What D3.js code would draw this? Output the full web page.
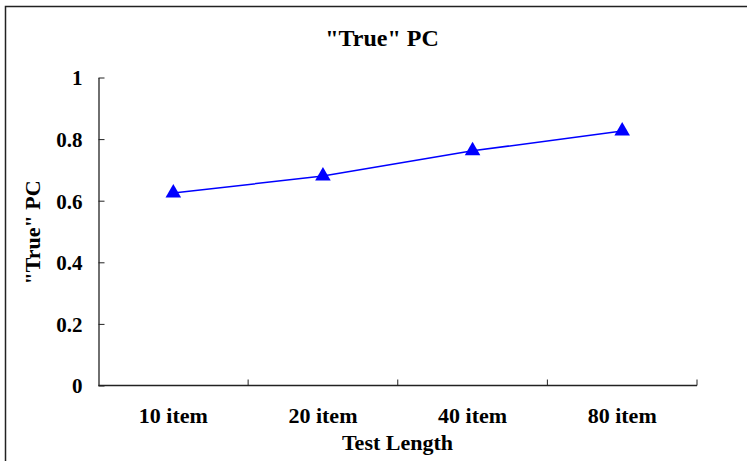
<!DOCTYPE html>
<html>
<head>
<meta charset="utf-8">
<script src="https://cdnjs.cloudflare.com/ajax/libs/d3/7.8.5/d3.min.js"></script>
<style>
  body { margin: 0; background: #fff; }
</style>
</head>
<body>
<svg id="chart"></svg>
<script>
var categories = ["10 item", "20 item", "40 item", "80 item"];
var truePC = [0.625, 0.680, 0.762, 0.826];
var yTicks = [0, 0.2, 0.4, 0.6, 0.8, 1];

var FONT = "'Liberation Serif', 'Times New Roman', Times, 'DejaVu Serif', serif";

var W = 747, H = 461;
var margin = {top: 77.5, right: 50, bottom: 75.5, left: 98.5},
    width = 697 - margin.left,
    height = 385.5 - margin.top;

var svg = d3.select("#chart")
  .attr("width", W)
  .attr("height", H)
  .style("font-family", FONT);

// outer frame (runs off the right and bottom edges)
svg.append("rect")
  .attr("x", 5.5).attr("y", 6.5)
  .attr("width", W + 10).attr("height", H + 10)
  .attr("fill", "none")
  .attr("stroke", "#222")
  .attr("stroke-width", 1.5);

var g = svg.append("g")
  .attr("transform", "translate(" + margin.left + "," + margin.top + ")");

var x = d3.scaleBand()
  .domain(categories)
  .range([0, width]);

var y = d3.scaleLinear()
  .domain([0, 1])
  .range([height, 0]);

// y axis: ticks point inward
var yAxis = d3.axisLeft(y)
  .tickValues(yTicks)
  .tickFormat(function(d) { return d; })
  .tickSizeInner(-6)
  .tickSizeOuter(0)
  .tickPadding(16);
var yg = g.append("g").call(yAxis)
  .attr("font-family", FONT);
yg.select(".domain").attr("stroke", "#222").attr("stroke-width", 1.3);
yg.selectAll(".tick line").attr("stroke", "#222");
yg.selectAll(".tick text")
  .attr("font-size", "21px")
  .attr("font-weight", "bold")
  .attr("font-family", FONT)
  .attr("dy", "0.35em");

// x axis: category separators pointing up
var xg = g.append("g").attr("transform", "translate(0," + height + ")");
xg.append("line")
  .attr("x1", 0).attr("x2", width)
  .attr("stroke", "#222").attr("stroke-width", 1.3);
xg.selectAll("line.sep")
  .data(categories)
  .enter().append("line")
  .attr("class", "sep")
  .attr("x1", function(d) { return x(d) + x.bandwidth(); })
  .attr("x2", function(d) { return x(d) + x.bandwidth(); })
  .attr("y1", 0).attr("y2", -6)
  .attr("stroke", "#222");
xg.selectAll("text")
  .data(categories)
  .enter().append("text")
  .attr("x", function(d) { return x(d) + x.bandwidth() / 2; })
  .attr("y", 37.5)
  .attr("text-anchor", "middle")
  .attr("font-family", FONT)
  .attr("font-weight", "bold")
  .attr("font-size", "22px")
  .text(function(d) { return d; });

// series line
var line = d3.line()
  .x(function(d, i) { return x(categories[i]) + x.bandwidth() / 2; })
  .y(function(d) { return y(d); });

g.append("path")
  .attr("d", line(truePC))
  .attr("fill", "none")
  .attr("stroke", "#0000ff")
  .attr("stroke-width", 1.5);

var tri = d3.symbol().type(d3.symbolTriangle).size(105);
g.selectAll(".marker")
  .data(truePC)
  .enter().append("path")
  .attr("class", "marker")
  .attr("d", tri)
  .attr("transform", function(d, i) {
    return "translate(" + (x(categories[i]) + x.bandwidth() / 2) + "," + y(d) + ")";
  })
  .attr("fill", "#0000ff");

// title and axis titles
svg.append("text")
  .text('"True" PC')
  .attr("x", 382).attr("y", 46)
  .attr("text-anchor", "middle")
  .attr("font-family", FONT)
  .attr("font-weight", "bold")
  .attr("font-size", "24px");

svg.append("text")
  .text("Test Length")
  .attr("x", 397.5).attr("y", 450)
  .attr("text-anchor", "middle")
  .attr("font-family", FONT)
  .attr("font-weight", "bold")
  .attr("font-size", "22px");

svg.append("text")
  .text('"True" PC')
  .attr("transform", "translate(40,232.5) rotate(-90)")
  .attr("text-anchor", "middle")
  .attr("font-family", FONT)
  .attr("font-weight", "bold")
  .attr("font-size", "22px");
</script>
</body>
</html>
